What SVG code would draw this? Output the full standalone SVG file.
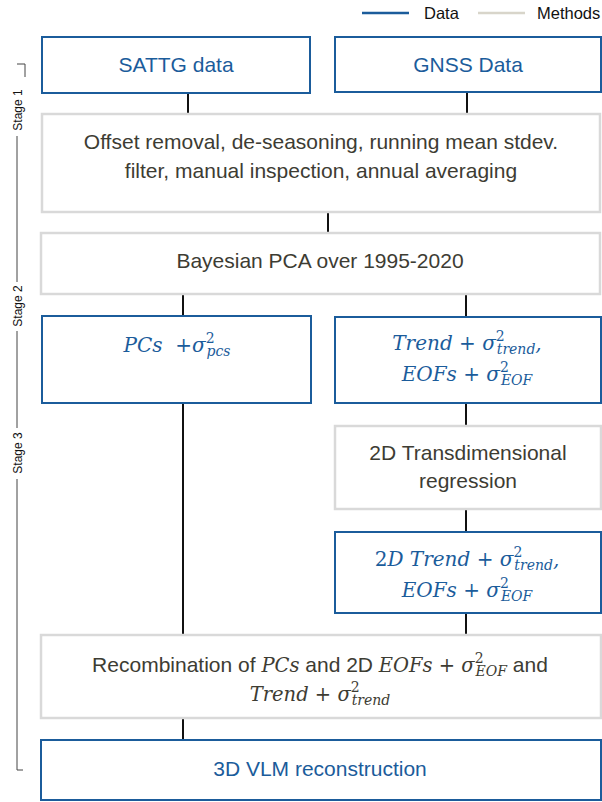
<svg xmlns="http://www.w3.org/2000/svg" width="602" height="802" viewBox="0 0 602 802">
<style>
.data{fill:#fff;stroke:#1b5c9b;stroke-width:2}
.meth{fill:#fff;stroke:#d9d9d9;stroke-width:2.5}
.dt{font-family:"Liberation Sans",Arial,sans-serif;font-size:21px;fill:#1b5c9b;text-anchor:middle}
.mt{font-family:"Liberation Sans",Arial,sans-serif;font-size:21px;fill:#3d3c33;text-anchor:middle}
.mathb{font-family:"DejaVu Serif","Liberation Serif",serif;font-style:italic;font-size:20px;fill:#1b5c9b}
.mathg{font-family:"DejaVu Serif","Liberation Serif",serif;font-style:italic;font-size:19.5px;fill:#3d3c33}
.sm{font-size:14px}
.up{font-style:normal}
.st{font-family:"Liberation Sans",Arial,sans-serif;font-size:12px;fill:#111;text-anchor:middle}
.lg{font-family:"Liberation Sans",Arial,sans-serif;font-size:16.5px;fill:#111}
.conn line{stroke:#111;stroke-width:2}
.brk{stroke:#444;stroke-width:1;fill:none}
</style>
<g id="legend">
<line x1="362" y1="13" x2="409" y2="13" stroke="#1b5c9b" stroke-width="2.5"/>
<text class="lg" x="424" y="19">Data</text>
<line x1="478" y1="13" x2="525" y2="13" stroke="#d8d5ca" stroke-width="2.5"/>
<text class="lg" x="537" y="19">Methods</text>
</g>
<g id="stages">
<path class="brk" d="M17,64 H25 V77"/>
<line class="brk" x1="17" y1="136" x2="17" y2="282"/>
<line class="brk" x1="17" y1="331" x2="17" y2="428"/>
<path class="brk" d="M17,479 V770 H23"/>
<text class="st" transform="translate(21.5,110) rotate(-90)">Stage 1</text>
<text class="st" transform="translate(21.5,306) rotate(-90)">Stage 2</text>
<text class="st" transform="translate(21.5,453) rotate(-90)">Stage 3</text>
</g>
<g id="connectors" class="conn">
<line x1="188" y1="93" x2="188" y2="114"/>
<line x1="467" y1="92" x2="467" y2="114"/>
<line x1="328" y1="212" x2="328" y2="233"/>
<line x1="183" y1="294" x2="183" y2="316"/>
<line x1="466" y1="294" x2="466" y2="317"/>
<line x1="466" y1="403" x2="466" y2="426"/>
<line x1="466" y1="509" x2="466" y2="532"/>
<line x1="466" y1="613" x2="466" y2="635"/>
<line x1="183" y1="403" x2="183" y2="635"/>
<line x1="183" y1="718" x2="183" y2="740"/>
</g>
<g id="sattg">
<rect class="data" x="42" y="37" width="268" height="56"/>
<text class="dt" x="176" y="72">SATTG data</text>
</g>
<g id="gnss">
<rect class="data" x="335" y="37" width="266" height="55"/>
<text class="dt" x="468" y="72">GNSS Data</text>
</g>
<g id="preprocess">
<rect class="meth" x="42" y="114" width="558" height="98"/>
<text class="mt" x="321" y="149">Offset removal, de-seasoning, running mean stdev.</text>
<text class="mt" x="321" y="178">filter, manual inspection, annual averaging</text>
</g>
<g id="bpca">
<rect class="meth" x="41" y="233" width="559" height="61"/>
<text class="mt" x="320" y="268">Bayesian PCA over 1995-2020</text>
</g>
<g id="pcs">
<rect class="data" x="42" y="316" width="269" height="87"/>
<text class="mathb" x="177" y="352" text-anchor="middle">PCs&#160; <tspan class="up">+</tspan>σ<tspan class="sm up" dy="-9">2</tspan><tspan class="sm" dx="-8" dy="13">pcs</tspan></text>
</g>
<g id="trend">
<rect class="data" x="335" y="317" width="266" height="86"/>
<text class="mathb" x="467" y="350" text-anchor="middle">Trend <tspan class="up">+</tspan> σ<tspan class="sm up" dy="-9">2</tspan><tspan class="sm" dx="-8" dy="13">trend</tspan><tspan dy="-4">,</tspan></text>
<text class="mathb" x="467" y="381" text-anchor="middle">EOFs <tspan class="up">+</tspan> σ<tspan class="sm up" dy="-9">2</tspan><tspan class="sm" dx="-8" dy="13">EOF</tspan></text>
</g>
<g id="transdim">
<rect class="meth" x="335" y="426" width="266" height="83"/>
<text class="mt" x="468" y="460">2D Transdimensional</text>
<text class="mt" x="468" y="488">regression</text>
</g>
<g id="trend2d">
<rect class="data" x="335" y="532" width="266" height="81"/>
<text class="mathb" x="467" y="566" text-anchor="middle"><tspan class="up">2</tspan>D Trend <tspan class="up">+</tspan> σ<tspan class="sm up" dy="-9">2</tspan><tspan class="sm" dx="-8" dy="13">trend</tspan><tspan dy="-4">,</tspan></text>
<text class="mathb" x="467" y="597" text-anchor="middle">EOFs <tspan class="up">+</tspan> σ<tspan class="sm up" dy="-9">2</tspan><tspan class="sm" dx="-8" dy="13">EOF</tspan></text>
</g>
<g id="recomb">
<rect class="meth" x="41" y="635" width="560" height="83"/>
<text class="mt" x="320" y="672">Recombination of <tspan class="mathg">PCs</tspan> and 2D <tspan class="mathg">EOFs <tspan class="up">+</tspan> σ<tspan class="sm up" dy="-9">2</tspan><tspan class="sm" dx="-8" dy="13">EOF</tspan></tspan><tspan dy="-4"> and</tspan></text>
<text class="mathg" x="320" y="701" text-anchor="middle">Trend <tspan class="up">+</tspan> σ<tspan class="sm up" dy="-9">2</tspan><tspan class="sm" dx="-8" dy="13">trend</tspan></text>
</g>
<g id="vlm">
<rect class="data" x="41" y="740" width="560" height="60"/>
<text class="dt" x="320" y="776">3D VLM reconstruction</text>
</g>
</svg>
